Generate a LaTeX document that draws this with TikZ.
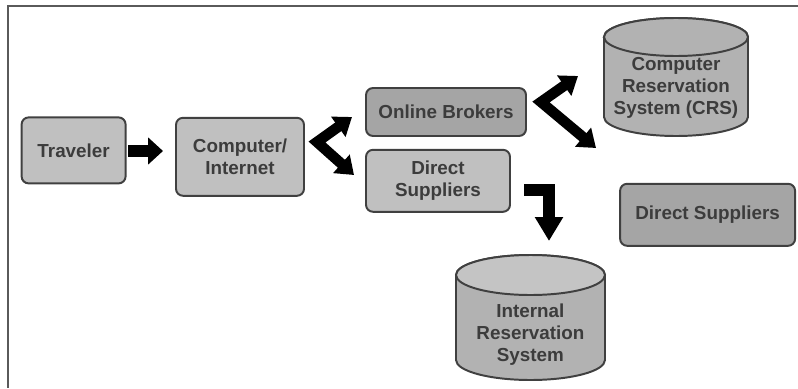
\documentclass[tikz,border=0pt]{standalone}
\usepackage{fontspec}
\setmainfont{Liberation Sans}
\usetikzlibrary{arrows.meta}
\definecolor{txt_grey}{RGB}{60, 60, 60}
\definecolor{edge_grey}{RGB}{64, 64, 64}
\definecolor{frame_grey}{RGB}{90, 90, 90}
\definecolor{box_light}{RGB}{192, 192, 192}
\definecolor{box_mid}{RGB}{178, 178, 178}
\definecolor{box_dark}{RGB}{165, 165, 165}
\definecolor{db_top}{RGB}{196, 196, 196}
\tikzstyle{box}=[rectangle,rounded corners=5pt,draw=edge_grey,line width=1.4pt,
  align=center,text=txt_grey,font=\fontsize{13.4}{15.6}\selectfont\bfseries]
\tikzstyle{db}=[draw=edge_grey,line width=1.4pt]
\tikzstyle{dbtext}=[align=center,text=txt_grey,
  font=\fontsize{13.4}{15.6}\selectfont\bfseries]
\tikzstyle{fat}=[line width=8.5pt,line join=miter,-{Triangle[width=18.5pt,length=10.5pt]}]
\tikzstyle{fatbend}=[line width=7.5pt,line join=miter,
  {Triangle[width=17pt,length=12pt]}-{Triangle[width=17pt,length=12pt]}]
\tikzstyle{fatdown}=[line width=8.5pt,line join=miter,-{Triangle[width=19pt,length=17pt]}]
\tikzstyle{none}=[]

\begin{document}
\begin{tikzpicture}
            \useasboundingbox (0, 0) rectangle (19.95, -9.7);
            \draw [line width=1.4pt, draw=frame_grey] (19.95, -0.15) -- (0.19, -0.15) -- (0.19, -9.7);
            % the two databases
            \filldraw [style=db, fill=box_mid] (15.1, -0.925) -- (15.1, -2.925) arc (180:360:1.8 and 0.475) -- (18.7, -0.925) arc (0:180:1.8 and 0.475) -- cycle;
            \filldraw [style=db, fill=box_mid] (16.9, -0.925) ellipse (1.8 and 0.475);
            \filldraw [style=db, fill=box_mid] (11.4, -6.875) -- (11.4, -9) arc (180:360:1.8625 and 0.5) -- (15.125, -6.875) arc (0:180:1.8625 and 0.5) -- cycle;
            \filldraw [style=db, fill=db_top] (13.2625, -6.875) ellipse (1.8625 and 0.5);
            \node [style=box, fill=box_light, minimum width=2.6cm, minimum height=1.65cm] (1) at (1.84, -3.76) {Traveler};
            \node [style=box, fill=box_light, minimum width=3.2cm, minimum height=1.95cm] (2) at (6, -3.92) {Computer/\\Internet};
            \node [style=box, fill=box_dark, minimum width=4cm, minimum height=1.2cm] (3) at (11.15, -2.8) {Online Brokers};
            \node [style=box, fill=box_light, minimum width=3.6cm, minimum height=1.55cm] (4) at (10.95, -4.52) {Direct\\Suppliers};
            \node [style=box, fill=box_dark, minimum width=4.375cm, minimum height=1.55cm] (5) at (17.69, -5.37) {Direct Suppliers};
            \node [style=dbtext] (6) at (16.9, -2.2) {Computer\\Reservation\\System (CRS)};
            \node [style=dbtext] (7) at (13.26, -8.37) {Internal\\Reservation\\System};
            \coordinate (10) at (3.2, -3.775);
            \coordinate (11) at (4.075, -3.775);
            \coordinate (12) at (8.8, -2.925);
            \coordinate (13) at (7.925, -3.55);
            \coordinate (14) at (8.85, -4.375);
            \coordinate (15) at (14.45, -1.9);
            \coordinate (16) at (13.525, -2.55);
            \coordinate (17) at (14.9, -3.7);
            \coordinate (18) at (13.1, -4.75);
            \coordinate (19) at (13.725, -4.75);
            \coordinate (20) at (13.725, -6.025);
            \draw [style=fat] (10) to (11);
            \draw [style=fatbend] (12) -- (13) -- (14);
            \draw [style=fatbend] (15) -- (16) -- (17);
            \draw [style=fatdown] (18) -- (19) -- (20);
    \end{tikzpicture}
\end{document}
